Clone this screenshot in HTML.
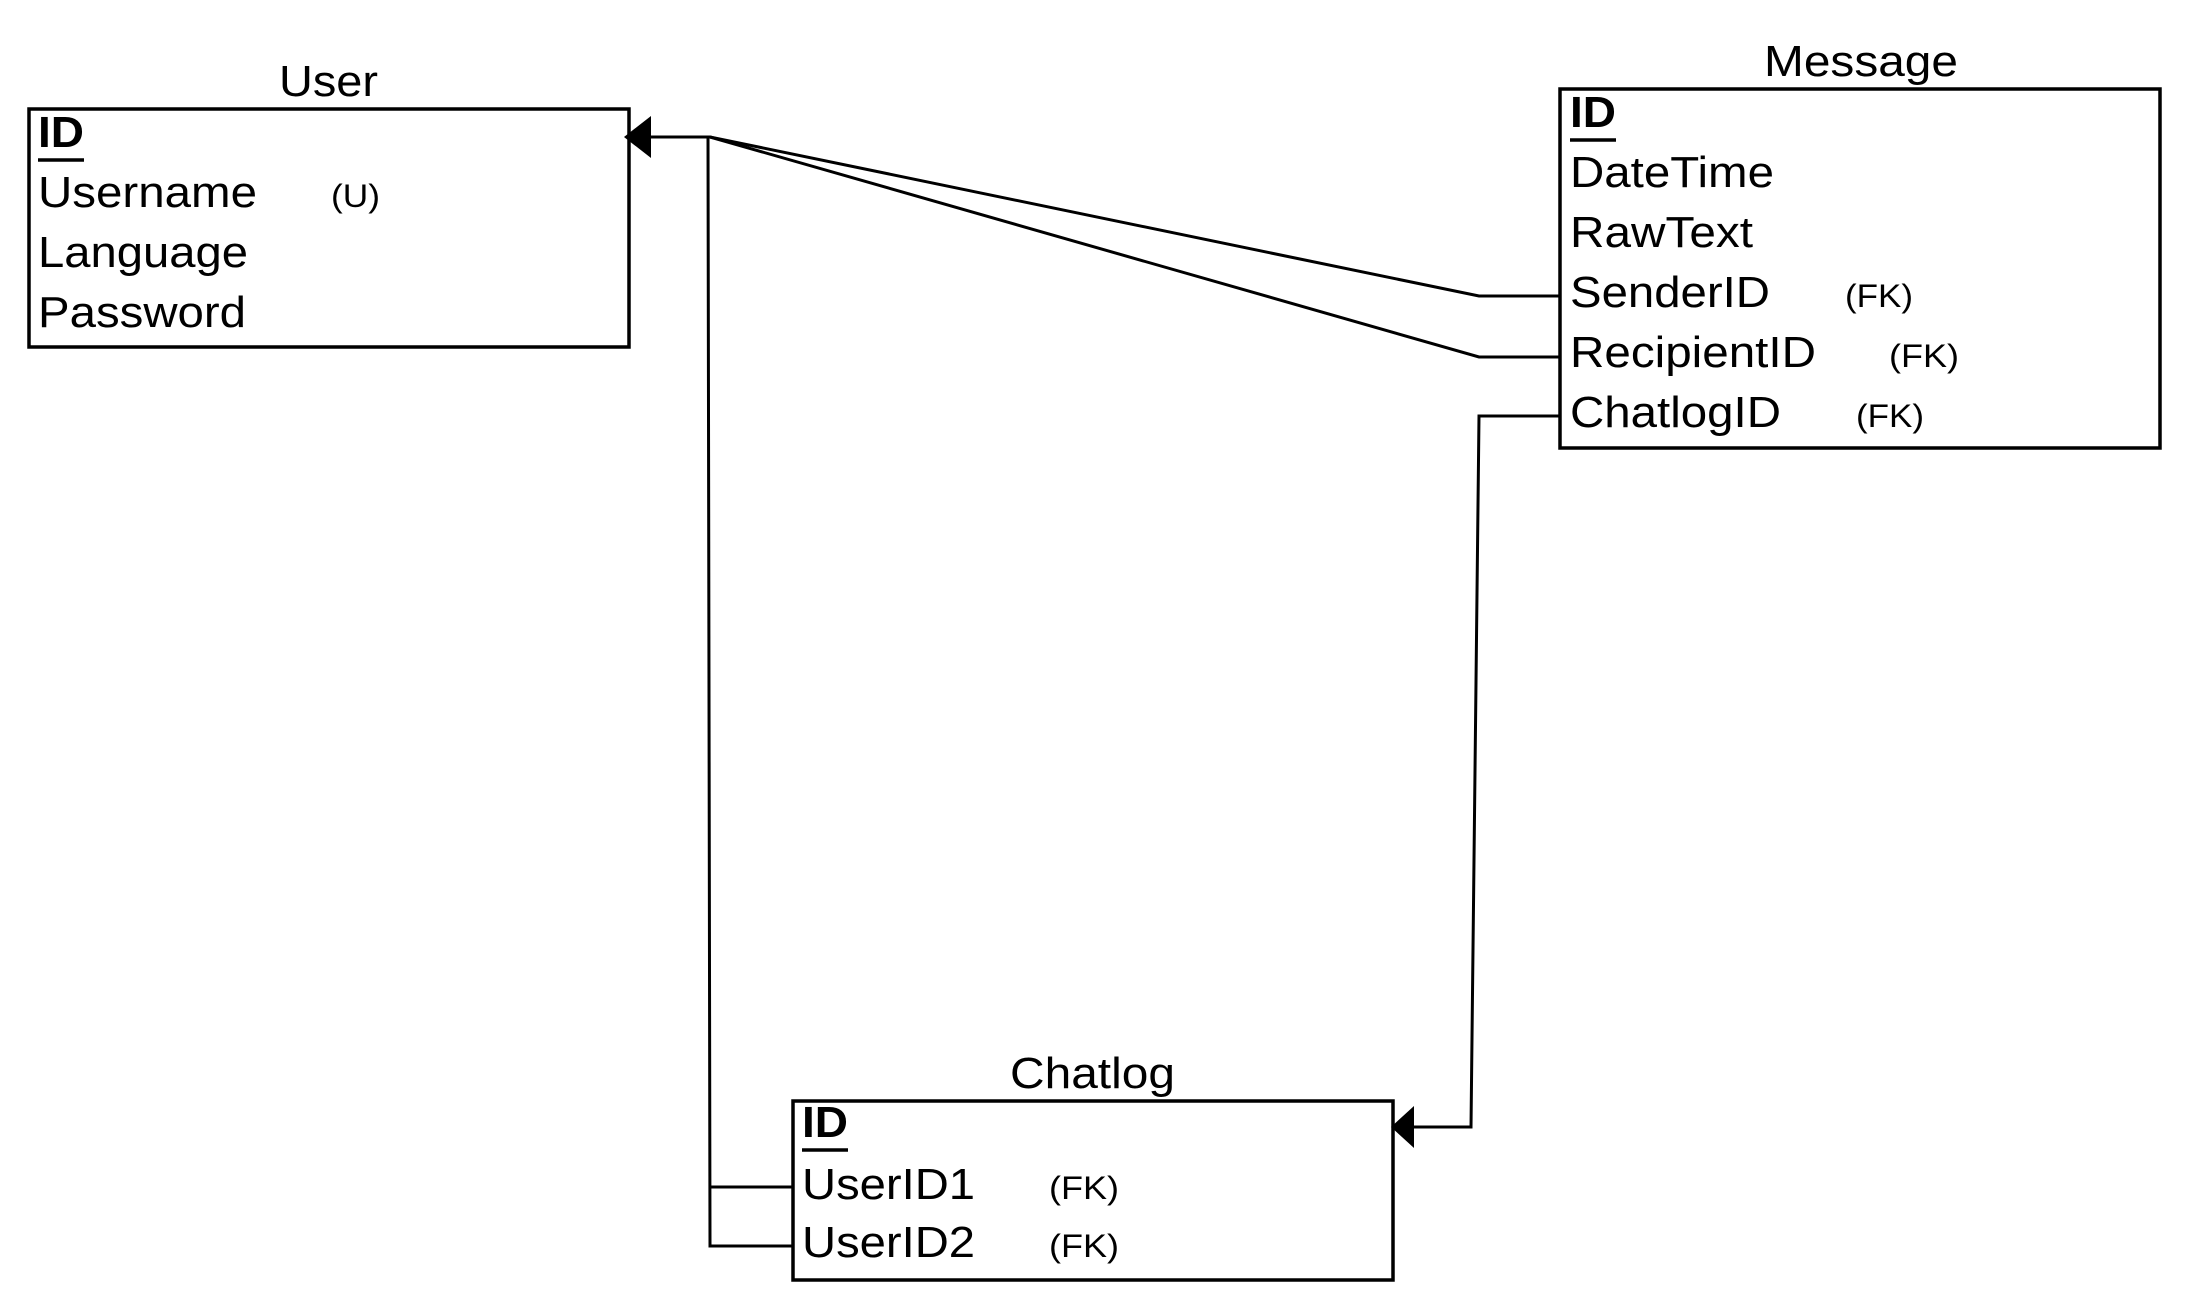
<!DOCTYPE html>
<html><head><meta charset="utf-8"><style>html,body{margin:0;padding:0;background:#fff}svg{display:block}</style></head>
<body>
<svg width="2188" height="1308" viewBox="0 0 2188 1308" xmlns="http://www.w3.org/2000/svg" font-family="Liberation Sans, Arial, sans-serif" fill="#000">
<rect width="2188" height="1308" fill="#fff"/>
<g fill="none" stroke="#000" stroke-width="3.5">
<rect x="29" y="109" width="600" height="238"/>
<rect x="1560" y="89" width="600" height="359"/>
<rect x="793" y="1101" width="600" height="179"/>
</g>
<g fill="none" stroke="#000" stroke-width="3">
<polyline points="650,137 710,137 1479,296 1560,296"/>
<polyline points="710,137 1479,357 1560,357"/>
<polyline points="708,137 710,1246 793,1246"/>
<line x1="709" y1="1187" x2="793" y2="1187"/>
<polyline points="1560,416 1479,416 1471,1127 1412,1127"/>
</g>
<polygon points="624,137 651,116 651,158" fill="#000"/>
<polygon points="1391,1127 1414,1106 1414,1148" fill="#000"/>
<g font-size="44">
<text x="279" y="96" textLength="99" lengthAdjust="spacingAndGlyphs">User</text>
<text x="38" y="147" font-weight="bold" textLength="46" lengthAdjust="spacingAndGlyphs">ID</text>
<text x="38" y="207" textLength="219" lengthAdjust="spacingAndGlyphs">Username</text>
<text x="38" y="267" textLength="210" lengthAdjust="spacingAndGlyphs">Language</text>
<text x="38" y="327" textLength="208" lengthAdjust="spacingAndGlyphs">Password</text>
<text x="1764" y="76" textLength="194" lengthAdjust="spacingAndGlyphs">Message</text>
<text x="1570" y="127" font-weight="bold" textLength="46" lengthAdjust="spacingAndGlyphs">ID</text>
<text x="1570" y="187" textLength="204" lengthAdjust="spacingAndGlyphs">DateTime</text>
<text x="1570" y="247" textLength="183" lengthAdjust="spacingAndGlyphs">RawText</text>
<text x="1570" y="307" textLength="200" lengthAdjust="spacingAndGlyphs">SenderID</text>
<text x="1570" y="367" textLength="246" lengthAdjust="spacingAndGlyphs">RecipientID</text>
<text x="1570" y="427" textLength="211" lengthAdjust="spacingAndGlyphs">ChatlogID</text>
<text x="1010" y="1088" textLength="165" lengthAdjust="spacingAndGlyphs">Chatlog</text>
<text x="802" y="1137" font-weight="bold" textLength="46" lengthAdjust="spacingAndGlyphs">ID</text>
<text x="802" y="1199" textLength="173" lengthAdjust="spacingAndGlyphs">UserID1</text>
<text x="802" y="1257" textLength="173" lengthAdjust="spacingAndGlyphs">UserID2</text>
</g>
<g stroke="#000" stroke-width="3.5">
<line x1="38" y1="160" x2="84" y2="160"/>
<line x1="1570" y1="140" x2="1616" y2="140"/>
<line x1="802" y1="1150" x2="848" y2="1150"/>
</g>
<g font-size="32">
<text x="331" y="207" textLength="49" lengthAdjust="spacingAndGlyphs">(U)</text>
<text x="1845" y="307" textLength="68" lengthAdjust="spacingAndGlyphs">(FK)</text>
<text x="1889" y="367" textLength="70" lengthAdjust="spacingAndGlyphs">(FK)</text>
<text x="1856" y="427" textLength="68" lengthAdjust="spacingAndGlyphs">(FK)</text>
<text x="1049" y="1199" textLength="70" lengthAdjust="spacingAndGlyphs">(FK)</text>
<text x="1049" y="1257" textLength="70" lengthAdjust="spacingAndGlyphs">(FK)</text>
</g>
</svg>
</body></html>
